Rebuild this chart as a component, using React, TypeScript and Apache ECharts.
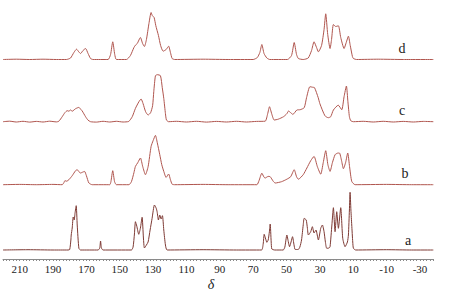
import { useEffect, useRef } from "react";
import * as echarts from "echarts";

// x axis: chemical shift (ppm); tick labels shown
const tickLabels = [210, 190, 170, 150, 130, 110, 90, 70, 50, 30, 10, -10, -30];
const traceNames = ["a", "b", "c", "d"];

// [ppm, intensity] (intensity in px above each baseline)
const traceA: number[][] = [
  [220, 0], [205, 0.3], [190, 0], [181, 0], [180, 0.5], [179.3, 10], [179.1, 15], [178.5, 22], [177.9, 33], [177.3, 30],
  [176.8, 37], [176.1, 44.3], [175.5, 25], [174.5, 1.7], [173.5, 0], [163, 0], [162, 2], [161.5, 9], [161, 2], [160, 0],
  [143, 0], [142, 3], [141.2, 16], [140.6, 28.3], [139.8, 24], [138.6, 15.7], [137.6, 22], [136.6, 32.7], [135.8, 12],
  [135.2, 2], [134, 5], [133, 8], [131.8, 20], [130.6, 31.7], [129.2, 45], [128.2, 42], [127.6, 38.3], [126.8, 30],
  [126, 35], [125.2, 31], [124.4, 34.3], [123.6, 20], [122.6, 5], [121.6, 0], [100, 0.3], [80, 0], [65, 0], [64, 6],
  [63.4, 15.7], [62.5, 11], [61.8, 7.7], [61, 10], [60.3, 18], [59.8, 26], [59.2, 8], [58.8, 1], [57, 0], [52, 0],
  [51, 3], [49.8, 15], [48.9, 8], [48.2, 3.3], [47.3, 8], [46.4, 13.3], [45.5, 5], [44.8, 0.5], [43, 0.5], [42, 3],
  [41, 10], [40, 25], [39.4, 31.7], [38.2, 30], [37.5, 22], [36.9, 15], [35.5, 18.3], [34.5, 23.3], [33.5, 17],
  [32.3, 20], [31.6, 15], [30.9, 10], [29.5, 21.7], [28.5, 25], [27.5, 18.3], [26.7, 8], [25.9, 1.7], [24.5, 2],
  [23.9, 3.3], [22.8, 25], [21.9, 42.3], [20.9, 18.3], [19.9, 38.3], [18.9, 21.7], [17.5, 42.3], [16.3, 11.7],
  [14.9, 3.3], [13.5, 8], [12.9, 15], [12.3, 40], [11.9, 57.7], [11.4, 40], [10.9, 25], [10.3, 8], [9.9, 1.7],
  [8.5, 0], [-10, 0.3], [-25, 0], [-38, 0],
];

const traceB: number[][] = [
  [220, 0], [210, 0.3], [200, 0], [190, 0.3], [184.5, 0], [183.5, 2], [182.9, 4], [181.8, 3.5], [180.5, 5], [178.5, 9],
  [176.5, 14], [175.5, 15], [174.5, 13], [173.5, 11.7], [172.3, 12.5], [171.1, 13.3], [170, 9], [168.5, 1.7],
  [166.5, 0], [156, 0], [155.3, 3], [154.2, 14], [153.1, 3], [152, 0], [144.5, 0], [143, 3], [141.5, 12],
  [140.6, 18.3], [139.2, 22], [137.6, 26.7], [136.2, 18], [134.6, 10], [133, 18], [131.2, 38.3], [130, 44],
  [128.6, 49.3], [127.5, 42], [126, 30], [124.8, 20], [123.6, 13.3], [122.2, 7.3], [120.7, 10.7], [119.6, 5],
  [118.6, 0.5], [117, 0], [100, 0.3], [85, 0], [67.8, 0], [66.5, 4], [64.8, 11.5], [63.5, 7.5], [62.8, 6.7],
  [61, 8.3], [59.8, 8], [58, 3.5], [56.8, 1.7], [53, 3], [49.8, 5.5], [47.5, 8], [45.4, 15], [44, 8], [42.9, 5.5],
  [40, 10], [37.8, 16.7], [35.5, 24], [33.5, 28.3], [31.5, 18], [29.5, 10.5], [28, 22], [26.5, 34], [25.2, 20],
  [23.9, 13.3], [22.5, 22], [20.9, 30], [19.5, 31.5], [18.3, 31.7], [17, 24], [15.9, 16], [14.6, 22], [13.3, 31.7],
  [12.2, 18], [10.9, 3.3], [8.9, 0], [-10, 0.3], [-25, 0], [-38, 0],
];

const traceC: number[][] = [
  [220, 0], [216, 0.5], [212, -0.3], [208, 0.4], [204, -0.4], [200, 0.3], [196, -0.3], [192, 0.5], [188, -0.2],
  [186.5, 0.5], [184.5, 5], [182.9, 9], [181.5, 11], [180.5, 10.5], [179.5, 11.7], [178.5, 10.5], [176.5, 13],
  [174.5, 14.3], [173.2, 12], [172.5, 10.7], [170.5, 5], [169.1, 1.7], [167.5, 0], [164, -0.4], [160, 0.4],
  [156, -0.3], [152, 0.4], [148, -0.3], [144.6, 0.3], [142.5, 5], [140.6, 13.3], [138.5, 20], [137.2, 22.7],
  [136, 18], [134.5, 10], [133, 6.7], [131.5, 9], [130.3, 16], [129.6, 30], [128.6, 46], [127.5, 47], [125.6, 46],
  [124.5, 34], [123.6, 23.3], [122.6, 8], [122, 1.7], [120.7, 0], [116, 0.4], [110, -0.3], [104, 0.4], [98, -0.4],
  [92, 0.3], [86, -0.3], [80, 0.4], [74, -0.3], [68, 0.3], [62.8, 0.5], [61.3, 8], [60.2, 15], [58.9, 8],
  [57.4, 1.7], [55, 2.5], [51.8, 5], [49.8, 8], [48.8, 10.7], [47.5, 9], [46.2, 7.3], [43.8, 11.7], [41.8, 12],
  [39.4, 14], [38, 24], [36, 35], [34.5, 34.5], [33.2, 34], [31, 24], [30, 18], [27, 6], [25, 4], [23.5, 5],
  [21.9, 11.7], [19, 16.5], [16.9, 12], [15.5, 25], [14.1, 35.7], [13.2, 20], [12.3, 5], [11.5, 1], [9.9, 0],
  [4, 0.4], [-2, -0.3], [-8, 0.4], [-14, -0.3], [-20, 0.3], [-26, -0.3], [-32, 0.3], [-38, 0],
];

const traceD: number[][] = [
  [220, 0], [212, 0.3], [204, 0], [196, 0.3], [188, 0], [182, 0], [179.5, 1.5], [177.5, 7], [175.9, 10.3],
  [174.5, 7.5], [173.5, 6], [172, 9], [170.5, 11], [169, 6], [167.5, 1], [166, 0], [157, 0], [155.5, 5],
  [154.2, 17.7], [153, 5], [152, 0], [146, 0], [143.6, 4], [141.5, 12], [140.6, 14.3], [139.5, 16], [137.6, 22],
  [136.3, 16], [135.2, 13], [134, 20], [132.5, 36], [131.2, 47], [130.5, 44], [129.4, 42], [128.4, 34], [126.8, 24],
  [125.5, 14], [124, 8.3], [122.2, 10], [120.7, 13.3], [119.6, 7], [118.6, 1], [117, 0], [100, 0.3], [85, 0],
  [70, 0], [67.5, 2], [66, 7], [64.8, 15], [63.5, 6], [61.8, 1.5], [60, 0], [49.5, 0], [47, 4], [45.4, 17],
  [44, 5], [42.9, 1], [40, 0], [37, 1.5], [35, 9], [33.5, 17.7], [32, 12], [30.9, 7.7], [29, 14], [27.5, 30],
  [26.5, 45.7], [25.3, 25], [23.9, 11], [23, 20], [21.9, 35], [20.5, 33], [18.9, 33.7], [17.5, 22], [15.5, 11],
  [14.2, 17], [12.9, 23.3], [11.8, 14], [10.5, 3], [9.9, 1], [8, 0], [-5, 0.3], [-20, 0], [-38, 0],
];

const traces = [traceA, traceB, traceC, traceD];
const offsets = [9, 74.3, 137.3, 199.5];
const colors = ["#7e3a34", "#b0554e", "#b0554e", "#b0554e"];
const labelPos = [
  [408, 240],
  [405, 173],
  [402, 110],
  [402, 48],
];

export default function App() {
  const ref = useRef<HTMLDivElement>(null);
  useEffect(() => {
    if (!ref.current) return;
    const chart = echarts.init(ref.current, null, { renderer: "svg" });
    const serif = "Liberation Serif";
    chart.setOption({
      animation: false,
      backgroundColor: "#ffffff",
      grid: { left: 2.7, right: 17.7, top: 0, bottom: 35 },
      xAxis: {
        type: "value",
        inverse: true,
        min: -38,
        max: 220,
        interval: 2,
        axisLine: { show: true, lineStyle: { color: "#8a8a8a", width: 1 } },
        axisTick: { show: true, length: 2, lineStyle: { color: "#8a8a8a" } },
        splitLine: { show: false },
        axisLabel: {
          color: "#222",
          fontFamily: serif,
          fontSize: 11,
          margin: 4,
          formatter: (v: number) => (tickLabels.includes(v) ? String(v) : ""),
        },
      },
      yAxis: { type: "value", min: 0, max: 259, show: false },
      graphic: [
        ...traceNames.map((t, i) => ({
          type: "text",
          x: labelPos[i][0],
          y: labelPos[i][1],
          style: {
            text: t,
            fontFamily: serif,
            fontSize: 14,
            fill: "#222",
            textAlign: "center",
            textVerticalAlign: "middle",
          },
        })),
        {
          type: "text",
          x: 211,
          y: 284,
          style: {
            text: "δ",
            fontFamily: serif,
            fontStyle: "italic",
            fontSize: 14,
            fill: "#222",
            textAlign: "center",
            textVerticalAlign: "middle",
          },
        },
      ],
      series: traces.map((tr, i) => ({
        type: "line",
        name: traceNames[i],
        data: tr.map(([x, y]) => [x, y + offsets[i]]),
        showSymbol: false,
        smooth: 0.2,
        lineStyle: { color: colors[i], width: 1 },
        itemStyle: { color: colors[i] },
        silent: true,
      })),
    });
    return () => chart.dispose();
  }, []);
  return (
    <div
      ref={ref}
      style={{ position: "fixed", left: 0, top: 0, width: 451, height: 294, background: "#fff" }}
    />
  );
}
